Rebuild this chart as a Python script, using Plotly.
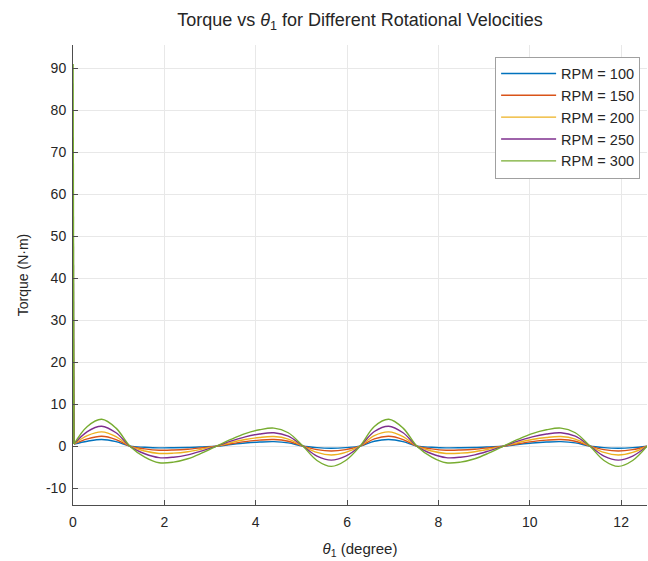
import plotly.graph_objects as go

# Sample positions (theta_1) along the x axis
THETA = [0.02, 0.314, 0.628, 0.942, 1.257, 1.571, 1.885, 2.199, 2.513, 2.827,
         3.142, 3.456, 3.770, 4.084, 4.398, 4.712, 5.027, 5.341, 5.655, 5.969,
         6.283, 6.597, 6.912, 7.226, 7.540, 7.854, 8.168, 8.482, 8.796, 9.111,
         9.425, 9.739, 10.053, 10.367, 10.681, 10.996, 11.310, 11.624, 11.938, 12.252,
         12.566]

RPM_LABELS = ["RPM = 100", "RPM = 150", "RPM = 200", "RPM = 250", "RPM = 300"]

TORQUE_100 = [0.5, 1.18, 1.6, 1.08, -0.02, -0.26, -0.4, -0.38, -0.3, -0.16,
              0.0, 0.4, 0.75, 0.98, 1.08, 0.8, 0.03, -0.34, -0.48, -0.34,
              0.0, 1.18, 1.6, 1.08, -0.02, -0.26, -0.4, -0.38, -0.3, -0.16,
              0.0, 0.4, 0.75, 0.98, 1.08, 0.8, 0.03, -0.34, -0.48, -0.34,
              0.0]
TORQUE_150 = [0.5, 1.73, 2.35, 1.58, -0.04, -0.63, -0.95, -0.91, -0.72, -0.38,
              0.0, 0.59, 1.10, 1.44, 1.58, 1.17, 0.04, -0.82, -1.15, -0.82,
              0.0, 1.73, 2.35, 1.58, -0.04, -0.63, -0.95, -0.91, -0.72, -0.38,
              0.0, 0.59, 1.10, 1.44, 1.58, 1.17, 0.04, -0.82, -1.15, -0.82,
              0.0]
TORQUE_200 = [0.5, 2.50, 3.40, 2.29, -0.07, -1.14, -1.73, -1.66, -1.31, -0.70,
              0.0, 0.85, 1.59, 2.08, 2.29, 1.70, 0.06, -1.49, -2.10, -1.49,
              0.0, 2.50, 3.40, 2.29, -0.07, -1.14, -1.73, -1.66, -1.31, -0.70,
              0.0, 0.85, 1.59, 2.08, 2.29, 1.70, 0.06, -1.49, -2.10, -1.49,
              0.0]
TORQUE_250 = [0.5, 3.49, 4.75, 3.19, -0.11, -1.80, -2.73, -2.62, -2.07, -1.10,
              0.0, 1.19, 2.23, 2.90, 3.19, 2.37, 0.08, -2.35, -3.31, -2.35,
              0.0, 3.49, 4.75, 3.19, -0.11, -1.80, -2.73, -2.62, -2.07, -1.10,
              0.0, 1.19, 2.23, 2.90, 3.19, 2.37, 0.08, -2.35, -3.31, -2.35,
              0.0]
TORQUE_300 = [0.5, 4.7, 6.4, 4.3, -0.15, -2.6, -3.95, -3.8, -3.0, -1.6,
              0.0, 1.6, 3.0, 3.9, 4.3, 3.2, 0.1, -3.4, -4.8, -3.4,
              0.0, 4.7, 6.4, 4.3, -0.15, -2.6, -3.95, -3.8, -3.0, -1.6,
              0.0, 1.6, 3.0, 3.9, 4.3, 3.2, 0.1, -3.4, -4.8, -3.4,
              0.0]

# Start-up spike at theta_1 = 0
SPIKE_X = [0.0, 0.02]
SPIKE_100 = [10.2, 0.5]
SPIKE_150 = [23.0, 0.5]
SPIKE_200 = [41.0, 0.5]
SPIKE_250 = [64.0, 0.5]
SPIKE_300 = [91.0, 0.5]

X_TICKS = [0, 2, 4, 6, 8, 10, 12]
Y_TICKS = [-10, 0, 10, 20, 30, 40, 50, 60, 70, 80, 90]

COLORS = ["#0072BD", "#D95319", "#EDB120", "#7E2F8E", "#77AC30"]

series = [TORQUE_100, TORQUE_150, TORQUE_200, TORQUE_250, TORQUE_300]
spikes = [SPIKE_100, SPIKE_150, SPIKE_200, SPIKE_250, SPIKE_300]

fig = go.Figure()
for name, ys, sp, col in zip(RPM_LABELS, series, spikes, COLORS):
    fig.add_trace(go.Scatter(
        x=THETA, y=ys, mode="lines", name=name, legendgroup=name,
        line=dict(color=col, width=1.4, shape="spline", smoothing=1.0),
    ))
    fig.add_trace(go.Scatter(
        x=SPIKE_X, y=sp, mode="lines", name=name, legendgroup=name,
        showlegend=False, line=dict(color=col, width=1.6),
    ))

FONT = "Liberation Sans, Arial, sans-serif"
TXT = "#262626"

fig.update_layout(
    width=648, height=561,
    margin=dict(l=73, r=1, t=45, b=56, autoexpand=False),
    paper_bgcolor="white", plot_bgcolor="white",
    font=dict(family=FONT, size=14, color=TXT),
    title=dict(text="Torque vs <i>θ</i><sub>1</sub> for Different Rotational Velocities",
               x=(73 + 647) / 2 / 648, xanchor="center", y=1 - 20 / 561, yanchor="middle",
               font=dict(family=FONT, size=18, color=TXT)),
    showlegend=True,
    legend=dict(x=0.988, xanchor="right", y=0.975, yanchor="top",
                bgcolor="white", bordercolor="#a0a0a0", borderwidth=1,
                font=dict(family=FONT, size=14.5, color=TXT),
                itemwidth=55, tracegroupgap=0),
    xaxis=dict(range=[0, 12.566], tickvals=X_TICKS, ticktext=[str(v) for v in X_TICKS],
               showgrid=True, gridcolor="#e8e8e8", gridwidth=1,
               showline=True, linecolor="#4d4d4d", linewidth=1,
               ticks="inside", ticklen=5, tickcolor="#4d4d4d",
               ticklabelstandoff=4,
               zeroline=False, mirror=False,
               title=dict(text="<i>θ</i><sub>1</sub> (degree)", standoff=14,
                          font=dict(family=FONT, size=15, color=TXT))),
    yaxis=dict(range=[-14, 95.5], tickvals=Y_TICKS, ticktext=[str(v) for v in Y_TICKS],
               showgrid=True, gridcolor="#e8e8e8", gridwidth=1,
               showline=True, linecolor="#4d4d4d", linewidth=1,
               ticks="inside", ticklen=5, tickcolor="#4d4d4d",
               ticklabelstandoff=3,
               zeroline=False, mirror=False,
               title=dict(text="Torque (N·m)", standoff=14,
                          font=dict(family=FONT, size=14, color=TXT))),
)

fig.write_html(
    "out.html",
    config={"displayModeBar": False},
    post_script="document.body.style.margin='0';document.body.style.overflow='hidden';",
)
